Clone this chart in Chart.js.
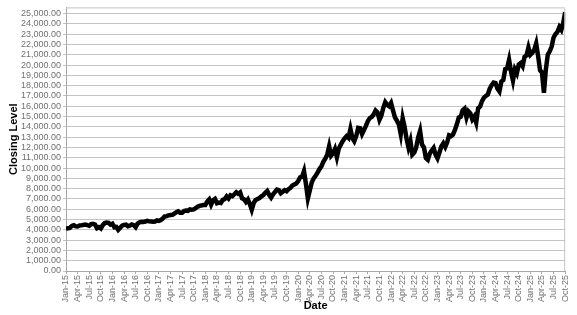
<!DOCTYPE html>
<html>
<head>
<meta charset="utf-8">
<script src="https://cdn.jsdelivr.net/npm/chart.js@4.4.1/dist/chart.umd.min.js"></script>
<style>
  html, body { margin: 0; padding: 0; background: #fff; }
  #wrap { width: 577px; height: 315px; }
</style>
</head>
<body>
<div id="wrap"><canvas id="chart" width="577" height="315"></canvas></div>
<script>
// quarterly tick labels on the date axis (one every 3 months from Jan-15)
const quarterLabels = [
  'Jan-15','Apr-15','Jul-15','Oct-15','Jan-16','Apr-16','Jul-16','Oct-16',
  'Jan-17','Apr-17','Jul-17','Oct-17','Jan-18','Apr-18','Jul-18','Oct-18',
  'Jan-19','Apr-19','Jul-19','Oct-19','Jan-20','Apr-20','Jul-20','Oct-20',
  'Jan-21','Apr-21','Jul-21','Oct-21','Jan-22','Apr-22','Jul-22','Oct-22',
  'Jan-23','Apr-23','Jul-23','Oct-23','Jan-24','Apr-24','Jul-24','Oct-24',
  'Jan-25','Apr-25','Jul-25','Oct-25'
];

// y axis tick values
const levelTicks = [
  0, 1000, 2000, 3000, 4000, 5000, 6000, 7000, 8000, 9000, 10000, 11000, 12000,
  13000, 14000, 15000, 16000, 17000, 18000, 19000, 20000, 21000, 22000, 23000,
  24000, 25000
];

// closing level, two readings per month (start, mid) from Jan-15
const closingLevels = [
  // 2015
  4100, 4150, 4190, 4380, 4440, 4350, 4330, 4420, 4430, 4480, 4510, 4450,
  4400, 4560, 4590, 4520, 4150, 4250, 4120, 4450, 4650, 4700, 4670, 4500,
  // 2016
  4590, 4250, 4280, 4000, 4200, 4400, 4480, 4500, 4340, 4400, 4520, 4450,
  4250, 4600, 4730, 4790, 4770, 4800, 4875, 4820, 4800, 4780, 4810, 4920,
  // 2017
  4860, 4950, 5100, 5300, 5330, 5400, 5440, 5450, 5580, 5700, 5790, 5650,
  5650, 5820, 5880, 5850, 5990, 5960, 5980, 6100, 6250, 6330, 6370, 6400,
  // 2018
  6400, 6750, 6950, 6450, 6870, 7000, 6580, 6650, 6610, 6900, 6970, 7250,
  7040, 7350, 7270, 7450, 7650, 7500, 7630, 7050, 6970, 6700, 6950, 6500,
  // 2019
  5950, 6600, 6900, 7000, 7090, 7250, 7380, 7600, 7780, 7400, 7130, 7450,
  7670, 7900, 7850, 7550, 7700, 7850, 7750, 7950, 8080, 8300, 8400, 8500,
  // 2020
  8730, 9100, 9150, 9700, 8460, 7050, 7810, 8600, 9000, 9250, 9550, 9900,
  10160, 10600, 10900, 11300, 12110, 11200, 11420, 11850, 11050, 11900, 12260, 12600,
  // 2021
  12890, 13100, 12930, 13800, 12910, 12600, 13090, 13900, 13860, 13300, 13690, 14100,
  14550, 14850, 14960, 15200, 15580, 15400, 14690, 15100, 15850, 16400, 16140, 16000,
  // 2022
  16320, 15600, 14930, 14600, 14240, 13300, 14840, 14000, 12850, 12000, 12640, 11300,
  11500, 12000, 12950, 13600, 12270, 12000, 10970, 10800, 11400, 11700, 11950, 11300,
  // 2023
  10940, 11500, 12100, 12400, 12040, 12500, 13180, 13100, 13250, 13700, 14250, 14900,
  14970, 15600, 15760, 14900, 15500, 15300, 14720, 15000, 14410, 15800, 15950, 16500,
  // 2024
  16830, 17000, 17140, 17700, 18040, 18300, 18250, 17700, 17440, 18400, 18540, 19600,
  19680, 20500, 19360, 18500, 19570, 19200, 20060, 20200, 19890, 20800, 20930, 21700,
  // 2025
  21010, 21200, 21480, 22100, 20880, 19500, 19280, 17300, 19570, 21000, 21340, 21800,
  22680, 23000, 23220, 23700, 23420, 24100,
  25150
];

const points = closingLevels.map((v, i) => ({ x: i / 2, y: v }));

const plotBorder = {
  id: 'plotBorder',
  afterDraw(chart) {
    const { ctx, chartArea: a } = chart;
    ctx.save();
    ctx.strokeStyle = '#c4c4c4';
    ctx.lineWidth = 1;
    ctx.beginPath();
    ctx.moveTo(a.left, a.top + 0.5);
    ctx.lineTo(a.right - 0.5, a.top + 0.5);
    ctx.lineTo(a.right - 0.5, a.bottom);
    ctx.stroke();
    ctx.restore();
  }
};

const tickFont = { family: 'Liberation Sans, Arial, sans-serif', size: 9 };
const titleFont = { family: 'Liberation Sans, Arial, sans-serif', size: 11, weight: 'bold' };

new Chart(document.getElementById('chart'), {
  type: 'line',
  data: {
    datasets: [{
      data: points,
      borderColor: '#000',
      borderWidth: 4.5,
      pointRadius: 0,
      tension: 0,
      fill: false
    }]
  },
  options: {
    responsive: false,
    animation: false,
    layout: { padding: { top: 3, right: 4, left: 0, bottom: 0 } },
    plugins: { legend: { display: false }, tooltip: { enabled: false } },
    scales: {
      x: {
        type: 'linear',
        min: 0,
        max: 129,
        afterBuildTicks: s => { s.ticks = quarterLabels.map((_, i) => ({ value: i * 3 })); },
        afterFit: s => { s.height = 44; },
        ticks: {
          autoSkip: false,
          minRotation: 90,
          maxRotation: 90,
          padding: 1,
          color: '#707070',
          font: tickFont,
          callback: v => quarterLabels[Math.round(v / 3)]
        },
        grid: { drawOnChartArea: false, drawTicks: true, tickLength: 3, color: '#a8a8a8' },
        border: { color: '#a8a8a8' },
        title: { display: true, text: 'Date', color: '#000', font: titleFont, padding: { top: 0, bottom: 2 } }
      },
      y: {
        min: 0,
        max: 25600,
        afterBuildTicks: s => { s.ticks = levelTicks.map(v => ({ value: v })); },
        afterFit: s => { s.width = 66; },
        ticks: {
          autoSkip: false,
          padding: 2,
          color: '#707070',
          font: tickFont,
          callback: v => v.toLocaleString('en-US', { minimumFractionDigits: 2, maximumFractionDigits: 2 })
        },
        grid: { color: '#c4c4c4', tickLength: 3 },
        border: { color: '#a8a8a8' },
        title: { display: true, text: 'Closing Level', color: '#000', font: titleFont, padding: { top: 7, bottom: 0 } }
      }
    }
  },
  plugins: [plotBorder]
});
</script>
</body>
</html>
